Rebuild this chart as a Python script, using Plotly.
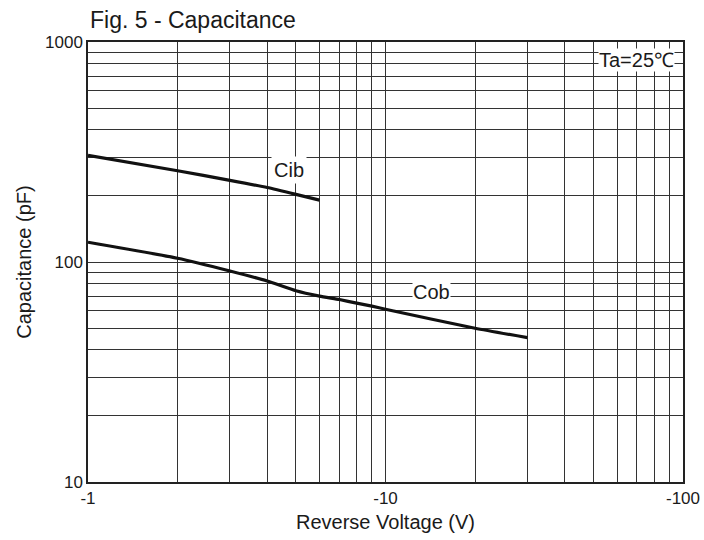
import plotly.graph_objects as go

# Data (reverse voltage in V, capacitance in pF)
cib_voltage = [-1, -2, -3, -4, -5, -6]
cib_capacitance = [305, 260, 235, 218, 203, 191]

cob_voltage = [-1, -2, -3, -4, -5, -6, -7, -8, -9, -10, -20, -30]
cob_capacitance = [123, 104, 91, 82, 74, 70, 67.5, 65, 63, 61, 50, 45.3]

x_tick_values = [1, 2, 3, 4, 5, 6, 7, 8, 9, 10, 20, 30, 40, 50, 60, 70, 80, 90, 100]
x_tick_labels = ["-1", "", "", "", "", "", "", "", "", "-10", "", "", "", "", "", "", "", "", "-100"]
y_tick_values = [10, 20, 30, 40, 50, 60, 70, 80, 90, 100, 200, 300, 400, 500, 600, 700, 800, 900, 1000]
y_tick_labels = ["10", "", "", "", "", "", "", "", "", "100", "", "", "", "", "", "", "", "", "1000"]

FONT = "Liberation Sans, Arial, sans-serif"
TXT = "#1a1a1a"

W, H = 704, 540

fig = go.Figure()
fig.add_trace(go.Scatter(x=[-v for v in cib_voltage], y=cib_capacitance, mode="lines",
                         line=dict(color="#111111", width=3.2, shape="spline", smoothing=0.5),
                         showlegend=False, hoverinfo="skip"))
fig.add_trace(go.Scatter(x=[-v for v in cob_voltage], y=cob_capacitance, mode="lines",
                         line=dict(color="#111111", width=3.2, shape="spline", smoothing=0.5),
                         showlegend=False, hoverinfo="skip"))

ann_font = dict(family=FONT, size=20, color=TXT)
fig.add_annotation(x=0.676, y=2.42, xref="x", yref="y", text="Cib", showarrow=False,
                   font=ann_font, bgcolor="white", borderpad=2)
fig.add_annotation(x=1.155, y=1.863, xref="x", yref="y", text="Cob", showarrow=False,
                   font=ann_font, bgcolor="white", borderpad=0)
fig.add_annotation(x=1.842, y=2.918, xref="x", yref="y", text="Ta=25℃", showarrow=False,
                   font=ann_font, bgcolor="white", borderpad=0)

fig.update_layout(
    width=W, height=H,
    margin=dict(l=88, r=21, t=42, b=58),
    paper_bgcolor="white", plot_bgcolor="white",
    font=dict(family=FONT, size=17, color=TXT),
    title=dict(text="Fig. 5 - Capacitance", x=90/W, xanchor="left", y=1 - 20/H, yanchor="middle",
               font=dict(family=FONT, size=23, color=TXT)),
    xaxis=dict(type="log", range=[0, 2], tickvals=x_tick_values, ticktext=x_tick_labels,
               showgrid=True, gridcolor="#333333", gridwidth=1,
               showline=True, linecolor="#222222", linewidth=1.5, mirror=True,
               ticks="", zeroline=False, automargin=False,
               title=dict(text="Reverse Voltage (V)", standoff=8, font=dict(size=20))),
    yaxis=dict(type="log", range=[1, 3], tickvals=y_tick_values, ticktext=y_tick_labels,
               showgrid=True, gridcolor="#333333", gridwidth=1,
               showline=True, linecolor="#222222", linewidth=1.5, mirror=True,
               ticks="", zeroline=False, automargin=False,
               title=dict(text="Capacitance (pF)", standoff=8, font=dict(size=20))),
)

# remove the page's default body margin so the figure fills the window exactly
fig.write_html("out.html", config={"displayModeBar": False},
               post_script="document.body.style.margin='0px';document.body.style.overflow='hidden';")
